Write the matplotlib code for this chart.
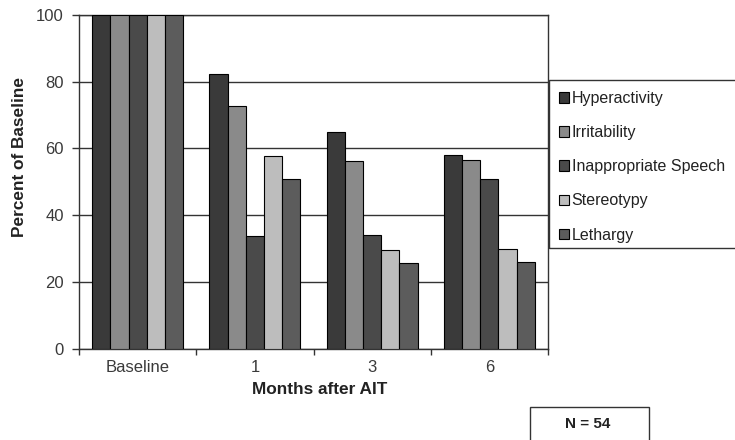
import matplotlib
matplotlib.use("Agg")
import matplotlib.pyplot as plt
import numpy as np
from matplotlib.patches import Rectangle

plt.rcParams['font.family'] = ['Liberation Sans', 'DejaVu Sans']

categories = ["Baseline", "1", "3", "6"]
series_names = ["Hyperactivity", "Irritability", "Inappropriate Speech", "Stereotypy", "Lethargy"]
hyperactivity = [100, 82.3, 64.8, 57.9]
irritability = [100, 72.8, 56.3, 56.5]
inappropriate_speech = [100, 33.7, 34.0, 51.0]
stereotypy = [100, 57.7, 29.6, 29.8]
lethargy = [100, 50.8, 25.8, 26.0]
yticks = [0, 20, 40, 60, 80, 100]

series = [hyperactivity, irritability, inappropriate_speech, stereotypy, lethargy]
colors = ["#3a3a3a", "#8a8a8a", "#4a4a4a", "#bdbdbd", "#5c5c5c"]

W, H = 735, 440
fig = plt.figure(figsize=(W / 100, H / 100), dpi=100)
ax = fig.add_axes([79 / W, 1 - 349 / H, (548 - 79) / W, (349 - 14.7) / H])

x = np.arange(len(categories))
bw = 0.155
for i, (name, vals, c) in enumerate(zip(series_names, series, colors)):
    ax.bar(x + (i - 2) * bw, vals, bw, color=c, edgecolor="black", linewidth=0.8,
           label=name, zorder=3)

ax.set_xlim(-0.5, len(categories) - 0.5)
ax.set_ylim(0, 100)
ax.set_yticks(yticks)
ax.set_yticklabels([str(v) for v in yticks], fontsize=12, color="#3a3a3a")
ax.yaxis.grid(True, color="#333333", linewidth=1.0, zorder=0)
ax.set_axisbelow(True)

ax.set_xticks(x)
ax.set_xticklabels(categories, fontsize=12, color="#3a3a3a")
ax.tick_params(axis='x', which='major', length=0, pad=8)
ax.set_xticks(np.arange(len(categories) + 1) - 0.5, minor=True)
ax.tick_params(axis='x', which='minor', length=4, width=1, color="#333333", direction='out')
ax.tick_params(axis='y', length=5, width=1, color="#333333", direction='out', pad=6)

for s in ax.spines.values():
    s.set_color("#333333")
    s.set_linewidth(1.0)

fig.text(20 / W, 1 - 157 / H, "Percent of Baseline", rotation=90, ha='center', va='center',
         fontsize=12.4, fontweight='bold', color="#222222")
fig.text(320 / W, 1 - 389 / H, "Months after AIT", ha='center', va='center',
         fontsize=12.4, fontweight='bold', color="#222222")

leg = fig.legend(loc='upper left', bbox_to_anchor=(551 / W, 1 - 83 / H),
                 frameon=False, fontsize=11.5, labelspacing=1.2,
                 handlelength=0.65, handleheight=0.65, handletextpad=0.15,
                 borderpad=0.5, borderaxespad=0)
for t in leg.get_texts():
    t.set_color("#222222")

fig.patches.append(Rectangle((549 / W, 1 - 248 / H), (745 - 549) / W, (248 - 80) / H,
                             transform=fig.transFigure, fill=False,
                             edgecolor="#333333", linewidth=1.0))

fig.patches.append(Rectangle((530 / W, 1 - 450 / H), (649 - 530) / W, (450 - 407) / H,
                             transform=fig.transFigure, fill=False,
                             edgecolor="#333333", linewidth=1.0))
fig.text(588 / W, 1 - 424 / H, "N = 54", ha='center', va='center', fontsize=11,
         fontweight='bold', color="#222222")

fig.savefig("out.png", dpi=100)
